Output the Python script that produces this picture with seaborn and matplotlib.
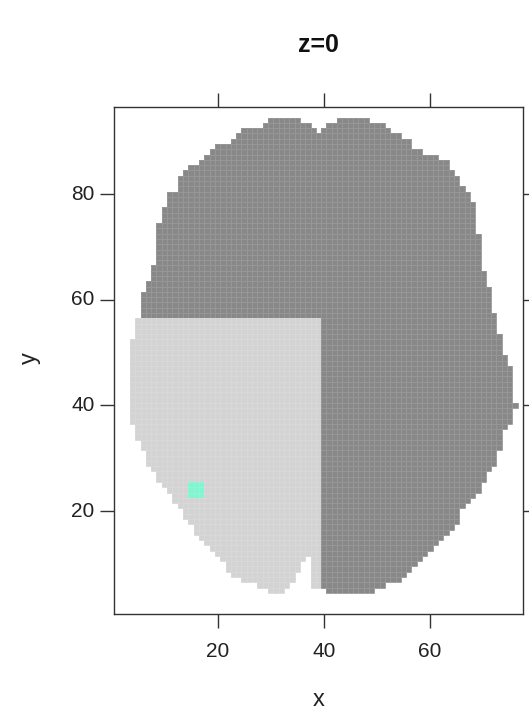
import numpy as np
import pandas as pd
import matplotlib
matplotlib.use("Agg")
import matplotlib.pyplot as plt
import seaborn as sns
from matplotlib.colors import ListedColormap

# slice z=0 of the mask, one entry per row y: first and last filled x
row_y = list(range(94, 4, -1))
left_x = [30, 29, 25, 24, 23, 20, 19, 18, 17, 15,
          14, 13, 13, 13, 11, 11, 11, 10, 10, 10,
          9, 9, 9, 9, 9, 9, 9, 9, 8, 8,
          8, 7, 7, 6, 6, 6, 6, 6, 5, 5,
          5, 5, 4, 4, 4, 4, 4, 4, 4, 4,
          4, 4, 4, 4, 4, 4, 4, 4, 5, 5,
          5, 6, 6, 7, 7, 7, 8, 9, 9, 10,
          11, 12, 12, 13, 14, 14, 15, 16, 16, 17,
          18, 19, 20, 21, 22, 22, 23, 25, 28, 30]
right_x = [48, 51, 52, 54, 56, 56, 58, 61, 63, 63,
           64, 65, 65, 66, 67, 67, 68, 68, 68, 68,
           68, 68, 69, 69, 69, 69, 69, 69, 69, 70,
           70, 70, 71, 71, 71, 71, 71, 72, 72, 72,
           72, 73, 73, 73, 73, 74, 74, 75, 75, 75,
           75, 75, 75, 75, 76, 75, 75, 75, 74, 73,
           73, 73, 73, 72, 72, 72, 71, 70, 70, 69,
           69, 68, 67, 66, 65, 65, 65, 64, 63, 62,
           61, 60, 59, 58, 57, 56, 55, 54, 51, 49]

# empty cells inside rows (notch at the front and at the back)
gap_y = [94, 93, 92, 11, 10, 9, 8, 7, 6, 5]
gap_x0 = [36, 38, 39, 37, 36, 36, 35, 35, 34, 33]
gap_x1 = [42, 40, 39, 37, 37, 37, 37, 37, 37, 40]

# region labels: 1 = light quadrant, 2 = rest, 3 = small spot
light_x_max = 39
light_y_max = 56
spot_x = [15, 16, 17]
spot_y = [23, 24, 25]

x_cells = list(range(1, 78))
y_cells = list(range(96, 0, -1))
x_ticks = [20, 40, 60]
y_ticks = [20, 40, 60, 80]

colors = ["#d3d3d3", "#888888", "#80f5d0"]


def BuildGrid():
    grid = pd.DataFrame(np.nan, index=y_cells, columns=x_cells)
    for y, x0, x1 in zip(row_y, left_x, right_x):
        for x in range(x0, x1 + 1):
            if x <= light_x_max and y <= light_y_max:
                grid.loc[y, x] = 1
            else:
                grid.loc[y, x] = 2
    for y, x0, x1 in zip(gap_y, gap_x0, gap_x1):
        for x in range(x0, x1 + 1):
            grid.loc[y, x] = np.nan
    for y in spot_y:
        for x in spot_x:
            grid.loc[y, x] = 3
    return grid


def PlotGrid(grid):
    sns.set_style("white")
    plt.rcParams['font.family'] = ['Liberation Sans', 'DejaVu Sans']

    fig = plt.figure(figsize=(5.29, 7.13), dpi=100)
    ax = fig.add_axes([114 / 529, 1 - 614 / 713, 409 / 529, 507 / 713])

    sns.heatmap(grid, ax=ax, cmap=ListedColormap(colors), vmin=0.5, vmax=3.5,
                mask=grid.isna(), cbar=False, linewidths=0.4,
                linecolor=(1, 1, 1, 0.12))

    for s in ax.spines.values():
        s.set_visible(True)
        s.set_color("#333333")
        s.set_linewidth(1.0)

    xpos = [x_cells.index(v) + 0.5 for v in x_ticks]
    ypos = [y_cells.index(v) + 0.5 for v in y_ticks]
    ax.set_xticks(xpos)
    ax.set_xticklabels([str(v) for v in x_ticks], rotation=0, fontsize=15, color="#222222")
    ax.set_yticks(ypos)
    ax.set_yticklabels([str(v) for v in y_ticks], rotation=0, fontsize=15, color="#222222")
    ax.tick_params(axis="both", direction="out", length=10, width=1, color="#333333",
                   top=True, right=True, bottom=True, left=True,
                   labeltop=False, labelright=False)
    ax.tick_params(axis="x", pad=10)
    ax.tick_params(axis="y", pad=4)
    ax.set_xlabel("")
    ax.set_ylabel("")

    fig.text(318.5 / 529, 1 - 45 / 713, "z=0", ha="center", va="center",
             fontsize=18, fontweight="bold", color="#111111")
    fig.text(318.5 / 529, 1 - 700 / 713, "x", ha="center", va="center",
             fontsize=17, color="#222222")
    fig.text(30 / 529, 1 - 358 / 713, "y", ha="center", va="center",
             rotation=90, fontsize=17, color="#222222")

    fig.savefig("out.png", dpi=100)


def main():
    grid = BuildGrid()
    PlotGrid(grid)


if __name__ == "__main__":
    main()
